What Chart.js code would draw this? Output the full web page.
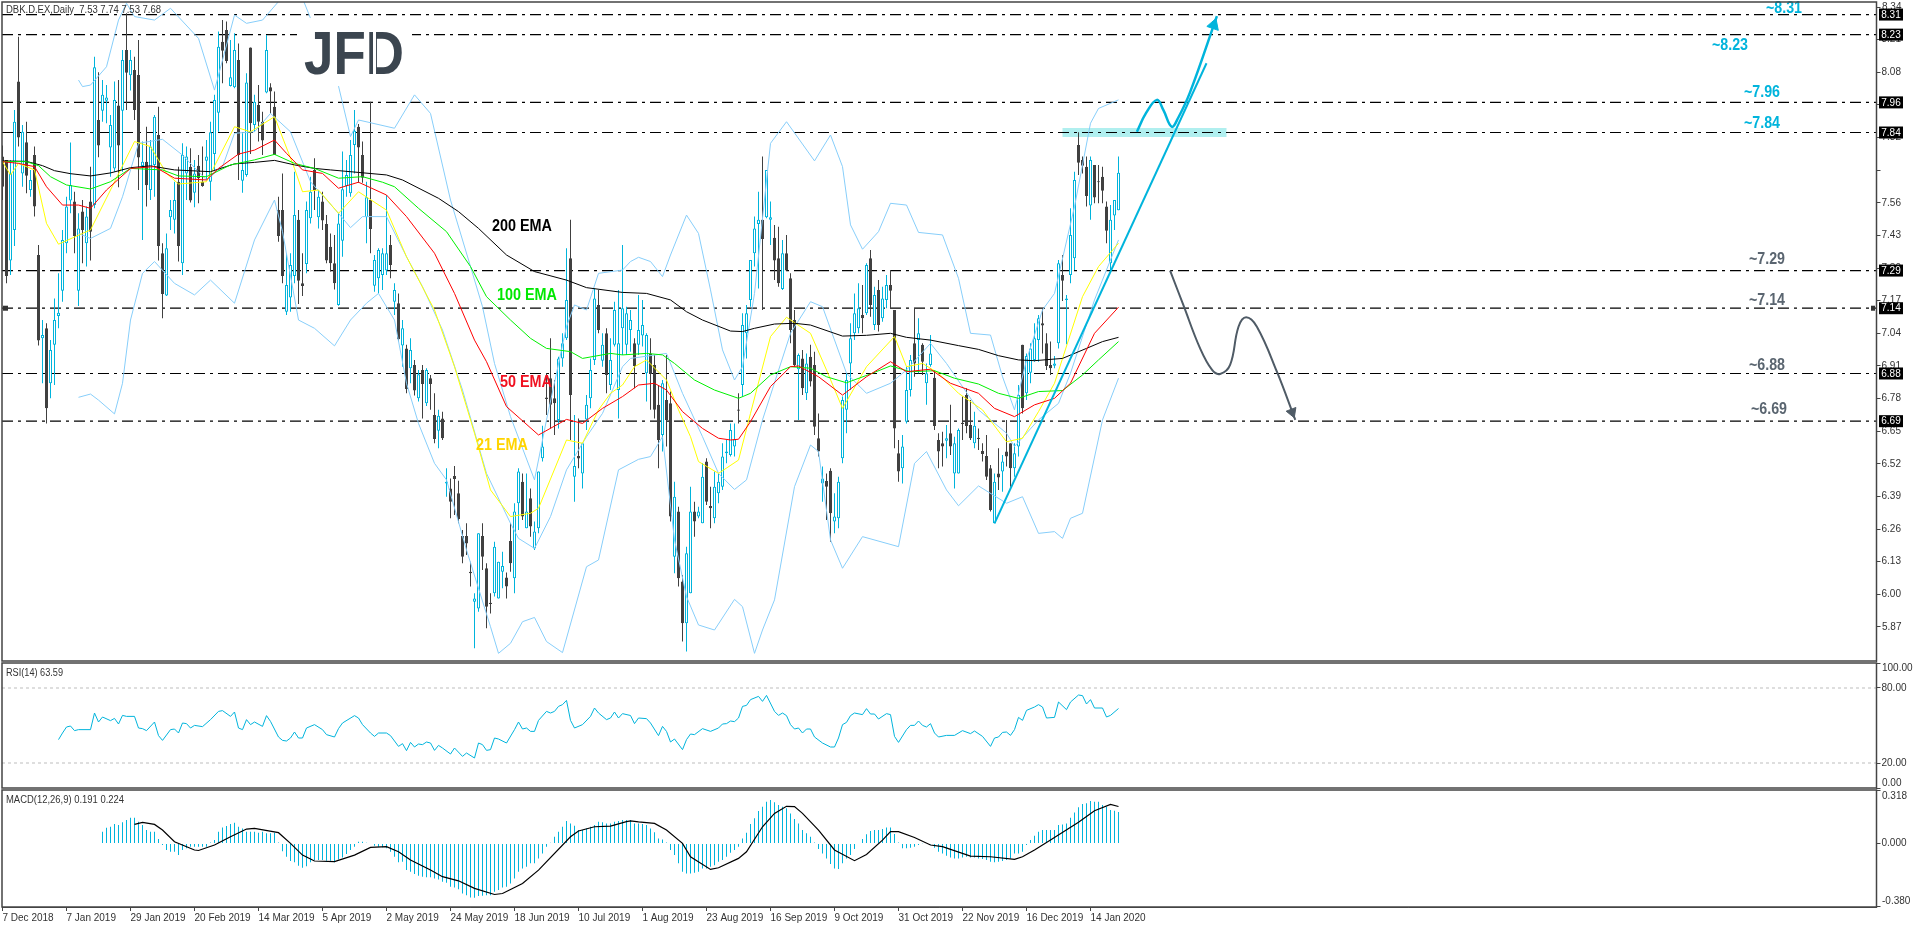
<!DOCTYPE html>
<html>
<head>
<meta charset="utf-8">
<title>DBK.D.EX Daily</title>
<script src="https://cdn.jsdelivr.net/npm/chart.js@4/dist/chart.umd.min.js"></script>
<style>
  html, body { margin: 0; padding: 0; background: #fff; overflow: hidden; }
  canvas { position: absolute; left: 0; }
  #price-chart { top: 0; }
  #rsi-chart { top: 662px; }
  #macd-chart { top: 789px; }
</style>
</head>
<body>
<canvas id="price-chart" width="1916" height="662"></canvas>
<canvas id="rsi-chart" width="1916" height="127"></canvas>
<canvas id="macd-chart" width="1916" height="139"></canvas>
<script>
// daily candles, one entry per bar
const opens = [
  7.744,7.731,7.330,7.452,8.043,7.677,7.801,7.611,7.750,7.352,
  7.020,7.060,6.841,6.994,7.109,7.210,7.399,7.569,7.565,7.210,
  7.525,7.399,7.565,7.551,7.890,7.927,7.967,7.780,7.697,7.948,
  7.927,8.169,8.068,8.089,8.069,7.707,7.724,7.611,7.711,7.830,
  7.359,7.191,7.502,7.492,7.644,7.319,7.677,7.704,7.600,7.708,
  7.644,7.728,7.644,7.754,7.919,8.202,8.248,8.025,8.020,8.129,
  7.648,7.671,8.179,7.870,7.950,7.883,7.999,8.020,7.943,7.531,
  7.531,7.126,7.183,7.268,7.492,7.239,7.316,7.498,7.691,7.502,
  7.565,7.476,7.385,7.319,7.153,7.409,7.627,7.598,7.790,7.863,
  7.750,7.502,7.571,7.230,7.259,7.272,7.290,7.392,7.166,7.160,
  6.991,6.980,6.901,6.914,6.781,6.894,6.761,6.861,6.715,6.652,
  6.701,6.442,6.422,6.472,6.403,6.233,6.233,6.090,5.971,5.944,
  6.233,6.104,5.967,6.004,5.984,6.090,6.067,6.213,6.064,6.363,
  6.449,6.263,6.383,6.183,6.263,6.542,6.784,6.861,6.781,6.695,
  6.940,7.020,7.339,6.469,6.551,6.482,6.697,6.781,6.934,7.153,
  6.931,7.040,6.834,6.994,6.814,7.060,6.994,7.053,7.000,6.994,
  7.031,6.881,6.960,6.914,6.755,6.635,6.774,6.761,6.150,6.330,
  6.051,5.885,6.004,6.330,6.310,6.283,6.529,6.352,6.303,6.403,
  6.429,6.562,6.555,6.589,6.736,6.834,7.040,7.173,7.359,7.476,
  7.492,7.502,7.492,7.421,7.339,7.217,7.359,7.259,7.093,6.897,
  6.940,6.801,6.947,6.914,6.622,6.442,6.452,6.492,6.290,6.303,
  6.542,6.735,6.920,7.040,7.060,7.113,7.120,7.339,7.073,7.213,
  7.100,7.173,7.233,7.133,6.562,6.502,6.688,6.814,7.000,7.013,
  6.994,6.841,6.914,6.863,6.615,6.602,6.612,6.642,6.482,6.482,
  6.684,6.794,6.675,6.602,6.624,6.571,6.551,6.502,6.283,6.482,
  6.489,6.569,6.602,6.502,6.589,6.994,6.801,6.883,6.934,7.013,
  7.080,7.000,6.914,6.911,7.000,7.272,7.173,7.272,7.339,7.790,
  7.731,7.704,7.549,7.711,7.646,7.664,7.545,7.319,7.509,7.530
]
const highs = [
  7.788,7.731,7.731,7.930,8.222,7.870,7.883,7.691,7.784,7.392,
  7.093,7.080,7.013,7.179,7.279,7.452,7.584,7.800,7.604,7.518,
  7.571,7.545,7.704,8.142,8.080,8.049,8.029,7.910,8.043,8.049,
  8.169,8.315,8.169,8.142,8.209,7.804,7.863,7.810,7.910,7.943,
  7.399,7.438,7.571,7.644,7.704,7.797,7.784,7.777,7.731,7.750,
  7.784,7.810,7.883,7.990,8.242,8.288,8.282,8.209,8.235,8.195,
  7.837,8.076,8.179,7.990,8.029,7.923,8.229,8.036,8.003,7.584,
  7.677,7.359,7.359,7.684,7.531,7.359,7.565,7.664,7.737,7.611,
  7.604,7.511,7.438,7.432,7.518,7.764,7.731,7.810,7.930,7.874,
  7.804,7.644,7.963,7.352,7.379,7.379,7.591,7.432,7.239,7.199,
  7.093,6.994,7.020,6.934,6.894,6.914,6.901,6.874,6.801,6.735,
  6.728,6.502,6.462,6.511,6.453,6.256,6.283,6.130,6.004,6.243,
  6.283,6.124,6.004,6.210,6.130,6.170,6.087,6.283,6.363,6.502,
  6.482,6.482,6.422,6.290,6.489,6.672,6.881,7.020,6.854,6.947,
  7.040,7.379,7.492,6.715,6.701,6.602,6.794,6.940,7.219,7.213,
  7.040,7.060,7.020,7.166,7.213,7.392,7.146,7.133,7.020,7.193,
  7.173,7.040,7.020,6.954,6.834,6.854,6.954,6.808,6.449,6.349,
  6.077,6.190,6.429,6.369,6.349,6.522,6.542,6.429,6.489,6.482,
  6.602,6.615,6.681,6.681,6.801,7.120,7.153,7.332,7.505,7.604,
  7.744,7.691,7.565,7.472,7.465,7.412,7.432,7.279,7.133,6.960,
  6.974,6.960,6.994,6.967,6.721,6.509,6.482,6.502,6.403,6.469,
  6.788,6.881,7.080,7.199,7.239,7.233,7.319,7.372,7.226,7.252,
  7.226,7.272,7.292,7.133,6.615,6.635,6.907,6.954,7.140,7.100,
  7.000,6.920,7.033,6.894,6.642,6.648,6.675,6.755,6.628,6.661,
  6.788,6.821,6.774,6.728,6.661,6.602,6.635,6.515,6.482,6.582,
  6.555,6.695,6.602,6.602,6.834,6.994,6.960,7.000,7.080,7.113,
  7.140,7.040,7.007,6.950,7.332,7.352,7.193,7.538,7.684,7.841,
  7.744,7.744,7.744,7.711,7.711,7.704,7.565,7.551,7.571,7.744
]
const lows = [
  7.571,7.239,7.272,7.388,7.784,7.624,7.598,7.584,7.505,6.991,
  6.841,6.681,6.781,6.834,7.060,7.166,7.359,7.518,7.359,7.149,
  7.319,7.306,7.330,7.538,7.741,7.883,7.877,7.664,7.684,7.622,
  7.684,7.930,8.007,7.890,7.611,7.412,7.545,7.571,7.584,7.330,
  7.100,7.189,7.452,7.438,7.326,7.272,7.571,7.561,7.542,7.558,
  7.624,7.651,7.569,7.691,7.843,8.036,8.116,8.023,8.016,7.651,
  7.600,7.664,7.754,7.843,7.804,7.750,7.996,7.916,7.750,7.405,
  7.239,7.113,7.126,7.239,7.157,7.189,7.279,7.478,7.531,7.458,
  7.452,7.319,7.286,7.215,7.150,7.345,7.584,7.584,7.677,7.640,
  7.640,7.399,7.359,7.206,7.199,7.213,7.272,7.259,7.113,7.007,
  6.907,6.801,6.841,6.792,6.768,6.701,6.750,6.735,6.602,6.582,
  6.615,6.389,6.303,6.316,6.283,6.124,6.157,6.031,5.785,5.931,
  6.097,5.865,5.924,5.991,5.984,6.024,5.984,6.090,6.004,6.256,
  6.296,6.263,6.230,6.177,6.243,6.529,6.715,6.661,6.635,6.661,
  6.907,7.013,6.615,6.369,6.502,6.422,6.655,6.741,6.914,7.040,
  6.907,6.801,6.814,6.987,6.701,6.954,6.954,6.967,6.821,6.954,
  6.987,6.768,6.735,6.701,6.502,6.569,6.589,6.290,6.084,6.031,
  5.812,5.772,6.004,6.230,6.303,6.283,6.356,6.263,6.283,6.363,
  6.416,6.522,6.549,6.549,6.681,6.788,6.940,7.146,7.306,7.219,
  7.133,7.498,7.392,7.252,7.226,7.213,7.290,7.000,6.907,6.695,
  6.794,6.774,6.828,6.635,6.549,6.369,6.296,6.210,6.243,6.263,
  6.522,6.642,6.814,7.013,7.040,7.040,7.113,7.106,7.053,7.047,
  7.086,7.140,7.140,6.582,6.449,6.442,6.681,6.788,6.867,6.881,
  6.874,6.755,6.907,6.655,6.502,6.509,6.542,6.555,6.422,6.482,
  6.615,6.642,6.615,6.582,6.575,6.529,6.456,6.330,6.283,6.416,
  6.409,6.509,6.429,6.469,6.549,6.721,6.774,6.841,6.927,6.927,
  6.960,6.894,6.874,6.901,6.980,7.169,6.996,7.239,7.292,7.671,
  7.677,7.545,7.492,7.558,7.558,7.558,7.399,7.286,7.452,7.530
]
const closes = [
  7.624,7.268,7.677,7.883,7.820,7.843,7.668,7.651,7.545,7.011,
  7.033,6.741,6.974,7.093,7.122,7.412,7.545,7.631,7.428,7.458,
  7.452,7.505,7.445,8.100,7.788,7.990,7.980,7.870,7.970,7.788,
  8.129,8.078,8.129,7.930,7.740,7.724,7.630,7.784,7.903,7.388,
  7.197,7.379,7.531,7.571,7.388,7.750,7.744,7.569,7.677,7.658,
  7.627,7.744,7.841,7.970,8.182,8.166,8.125,8.060,8.169,7.750,
  7.691,8.039,7.877,7.963,7.883,7.808,8.169,8.003,7.750,7.428,
  7.268,7.233,7.312,7.511,7.249,7.229,7.531,7.604,7.611,7.584,
  7.489,7.330,7.319,7.239,7.478,7.614,7.671,7.750,7.847,7.780,
  7.660,7.582,7.456,7.332,7.372,7.359,7.359,7.312,7.213,7.016,
  7.060,6.818,6.974,6.812,6.877,6.838,6.894,6.838,6.619,6.712,
  6.622,6.449,6.369,6.460,6.300,6.150,6.203,6.084,5.984,6.243,
  6.150,5.951,5.962,6.190,6.130,6.113,6.031,6.124,6.330,6.489,
  6.310,6.330,6.270,6.250,6.489,6.589,6.778,6.755,6.761,6.940,
  7.000,7.173,6.794,6.511,6.541,6.602,6.755,6.894,7.179,7.053,
  6.994,6.874,6.934,7.133,7.000,7.140,7.120,7.093,6.910,7.053,
  7.073,7.033,6.878,6.735,6.615,6.841,6.695,6.310,6.389,6.064,
  5.885,6.164,6.330,6.290,6.330,6.469,6.369,6.343,6.429,6.449,
  6.549,6.569,6.655,6.618,6.732,7.073,7.120,7.332,7.458,7.492,
  7.416,7.691,7.502,7.330,7.239,7.359,7.290,7.053,6.914,6.954,
  6.821,6.920,6.848,6.668,6.569,6.462,6.429,6.323,6.310,6.449,
  6.774,6.854,7.020,7.120,7.140,7.100,7.312,7.153,7.193,7.073,
  7.179,7.233,7.210,6.661,6.489,6.589,6.814,6.934,6.920,7.040,
  6.927,6.881,6.960,6.671,6.569,6.589,6.622,6.589,6.602,6.655,
  6.679,6.671,6.622,6.672,6.619,6.559,6.469,6.336,6.449,6.466,
  6.529,6.549,6.502,6.562,6.794,6.741,6.950,6.980,7.020,7.100,
  7.071,6.910,6.901,6.920,7.319,7.249,7.179,7.432,7.651,7.720,
  7.708,7.587,7.731,7.581,7.642,7.608,7.449,7.492,7.571,7.680
]

// indicators at the turning points: bar number + value
const ema200Bars = [0,6,10,13,17,22,27,32,37,43,52,58,63,68,73,78,82,89,96,100,109,114,119,126,133,141,146,155,161,167,171,175,182,185,188,193,198,202,210,216,222,226,232,239,244,249,254,258,265,271,275,279]
const ema200Vals = [7.727,7.725,7.708,7.688,7.676,7.667,7.679,7.700,7.707,7.691,7.684,7.715,7.721,7.729,7.711,7.697,7.691,7.681,7.671,7.651,7.578,7.525,7.458,7.352,7.286,7.252,7.222,7.203,7.199,7.173,7.126,7.093,7.049,7.047,7.060,7.077,7.080,7.073,7.029,7.032,7.040,7.024,7.013,6.991,6.976,6.951,6.934,6.931,6.940,6.980,7.007,7.024]
const ema100Bars = [0,6,9,12,16,22,27,32,40,44,51,57,63,68,73,78,84,90,95,98,104,111,117,121,127,132,136,142,145,152,155,161,165,168,173,178,184,187,192,197,202,206,211,217,222,227,233,238,244,249,254,259,265,270,274,279]
const ema100Vals = [7.724,7.724,7.708,7.664,7.631,7.615,7.644,7.697,7.691,7.667,7.664,7.711,7.731,7.753,7.717,7.697,7.658,7.664,7.642,7.624,7.538,7.445,7.306,7.186,7.093,7.020,6.980,6.967,6.940,6.960,6.954,6.960,6.954,6.920,6.854,6.814,6.781,6.801,6.874,6.907,6.901,6.867,6.843,6.878,6.910,6.887,6.891,6.861,6.838,6.801,6.781,6.808,6.812,6.874,6.934,7.007]
const ema50Bars = [0,4,8,11,15,19,22,26,32,38,43,51,54,59,63,68,71,75,80,84,89,96,101,108,113,118,121,126,134,141,145,150,155,159,163,166,170,175,179,182,184,187,192,197,199,204,210,216,222,226,232,237,244,248,253,258,263,267,273,279]
const ema50Vals = [7.724,7.717,7.704,7.624,7.551,7.551,7.538,7.611,7.697,7.704,7.658,7.651,7.697,7.754,7.770,7.810,7.757,7.691,7.677,7.618,7.642,7.591,7.505,7.359,7.199,7.013,6.927,6.748,6.635,6.697,6.681,6.741,6.788,6.834,6.841,6.814,6.728,6.661,6.622,6.615,6.618,6.688,6.828,6.907,6.910,6.867,6.794,6.867,6.927,6.887,6.897,6.841,6.801,6.741,6.708,6.755,6.781,6.841,7.040,7.144]
const ema21Bars = [0,2,4,8,11,14,20,22,27,33,37,41,44,51,58,62,68,73,75,79,84,89,96,101,108,113,118,122,127,132,134,141,145,149,152,155,158,161,166,169,172,174,179,184,187,192,196,202,206,210,216,223,226,230,234,239,245,251,255,259,263,270,274,279]
const ema21Vals = [7.724,7.671,7.717,7.691,7.478,7.395,7.438,7.452,7.611,7.804,7.784,7.677,7.635,7.644,7.863,7.843,7.903,7.697,7.604,7.611,7.518,7.604,7.531,7.345,7.133,6.907,6.642,6.416,6.310,6.323,6.343,6.615,6.602,6.735,6.801,6.834,6.907,6.934,6.854,6.735,6.628,6.529,6.482,6.535,6.721,7.027,7.104,7.040,6.894,6.741,6.907,7.027,6.907,6.920,6.881,6.801,6.735,6.608,6.622,6.728,6.841,7.186,7.306,7.399]
const bbUpperBars = [19,20,22,26,29,31,33,38,42,49,53,58,61,65,70,75,77,84,87,89,98,103,107,112,117,120,123,127,133,136,141,143,146,149,155,157,159,162,165,167,171,174,177,180,183,185,188,192,196,203,207,210,212,215,219,222,226,229,235,239,242,247,250,253,256,260,263,268,272,274,279]
const bbUpperVals = [8.049,8.023,8.029,8.102,8.288,8.355,8.302,8.288,8.335,8.215,8.009,8.308,8.275,8.288,8.380,8.375,8.295,8.025,7.824,7.890,7.857,7.990,7.916,7.571,7.306,7.146,6.920,6.708,6.456,6.695,7.067,7.153,7.133,7.279,7.292,7.326,7.343,7.326,7.266,7.352,7.511,7.438,7.213,6.974,6.854,6.907,7.199,7.797,7.883,7.727,7.830,7.704,7.472,7.375,7.445,7.558,7.551,7.442,7.432,7.259,7.040,7.033,6.867,6.735,6.934,7.133,7.199,7.545,7.877,7.936,7.970]
const bbMidBars = [19,22,27,30,34,40,45,51,55,58,63,67,72,77,84,87,90,96,101,105,110,115,121,127,129,133,137,141,146,150,155,157,166,170,175,179,183,186,190,197,202,205,211,216,222,226,232,236,244,251,253,259,264,267,273,279]
const bbMidVals = [7.438,7.418,7.458,7.584,7.797,7.813,7.750,7.651,7.704,7.837,7.843,7.916,7.843,7.644,7.518,7.461,7.505,7.505,7.345,7.226,7.053,6.814,6.482,6.283,6.223,6.183,6.310,6.496,6.628,6.721,6.907,6.940,6.960,6.801,6.628,6.482,6.418,6.456,6.695,7.040,7.166,7.146,6.881,6.801,6.841,6.894,7.000,6.920,6.735,6.642,6.589,6.695,6.761,6.881,7.173,7.412]
const bbLowerBars = [19,22,24,28,30,32,35,38,43,48,52,58,63,68,70,74,78,83,87,91,94,98,101,104,108,111,116,122,124,127,130,133,136,140,146,149,154,159,162,165,168,171,174,178,183,185,188,190,193,198,202,204,207,210,215,224,228,231,236,239,244,251,255,259,263,265,267,270,275,279]
const bbLowerVals = [6.785,6.798,6.774,6.719,6.841,7.093,7.279,7.326,7.239,7.193,7.252,7.160,7.412,7.571,7.445,7.093,7.060,6.990,7.093,7.160,7.199,7.093,6.841,6.681,6.522,6.456,6.177,5.871,5.765,5.805,5.891,5.908,5.812,5.768,6.110,6.137,6.496,6.538,6.549,6.628,6.217,5.991,5.878,5.858,5.980,5.951,5.765,5.858,5.978,6.429,6.595,6.569,6.217,6.104,6.230,6.190,6.522,6.569,6.416,6.353,6.432,6.363,6.389,6.243,6.250,6.223,6.303,6.323,6.695,6.861]

// horizontal levels and what is drawn over them
const levels = [8.31,8.23,7.96,7.84,7.29,7.14,6.88,6.69]
const priceTicks = [8.34,8.21,8.08,7.95,7.82,7.69,7.56,7.43,7.30,7.17,7.04,6.91,6.78,6.65,6.52,6.39,6.26,6.13,6.00,5.87]
const zoneBars = [265,306]
const zoneVals = [7.84,7.84]
const trendBars = [248,301]
const trendVals = [6.283,8.116]
const upPathBars = [283.6,285.9,288.6,290.2,292.3,293.9,296.9,303.6]
const upPathVals = [7.843,7.918,7.970,7.930,7.863,7.898,8.001,8.304]
const downPathBars = [291.9,295.2,299.4,302.4,304.4,306.9,309,310.9,313.6,318.6,323.2]
const downPathVals = [7.290,7.153,6.980,6.894,6.878,6.914,7.066,7.104,7.066,6.887,6.695]

const rsiBars = [14,15,16,17,18,19,22,23,24,25,27,28,29,30,31,33,34,35,36,38,39,40,42,43,44,45,46,47,48,50,52,54,55,57,58,59,60,61,62,63,65,66,67,69,70,71,72,73,74,75,76,78,80,81,83,84,85,88,89,90,92,93,94,96,97,99,100,101,102,103,104,105,106,107,108,109,110,112,113,115,116,118,119,120,121,122,123,124,126,128,129,130,131,132,133,134,136,137,138,139,140,141,142,143,145,147,148,149,151,152,153,154,155,157,158,159,161,162,164,165,166,167,168,170,171,172,173,175,177,179,180,181,182,183,184,185,186,187,189,190,191,193,194,195,196,197,198,199,200,201,202,203,205,207,208,209,210,211,212,213,215,216,217,218,219,221,222,223,224,226,227,228,229,230,231,232,233,234,236,238,240,242,243,245,247,248,249,250,251,252,253,254,255,256,258,259,260,261,263,264,266,267,269,270,271,272,273,275,276,277,279]
const rsiVals = [38.7,44,48.8,49.6,45.9,46.7,46.7,60,52.8,56.8,53.9,55.7,51.2,58.1,57.3,57.3,48,47.5,45.9,52.8,41.9,38.1,46.7,47.2,44,52,51.5,48,50.1,49.1,54.7,61.3,61.9,57.3,60.8,48,46.7,54.7,50.7,52.8,49.3,57.9,53.3,40.8,38.1,37.6,40,44.8,40,40,48,50.7,46.7,42.7,40.8,47.5,52,57.9,56,50.7,44,41.3,44,44,41.9,33.3,35.5,29.9,36.5,32.8,35.2,34.7,36.8,36,30.1,34.1,32,27.2,32,25.3,28,24,36,34.7,30.1,30.7,40,39.2,36,46.7,52.8,47.2,48,45.3,45.3,54.1,61.3,60,61.3,65.3,66.7,70.1,54.1,48,50.7,57.3,64,60,54.7,56,60.8,56,59.5,58,51.5,56,55.5,52,41.9,49.3,45.3,36.8,39.2,30.7,38.7,43.2,42.7,47.5,45.3,48,51.2,51.5,53.6,53.1,56,65.3,66.1,70.7,73.3,69.3,74.1,61.3,58.1,60,57.9,50.7,47.2,48,44,47.2,47.2,40.8,36,32.8,32.8,40,50.7,52.5,57.9,60,58.7,63.5,59.2,59.2,55.2,59.5,58.7,41.3,36.5,46.7,50.1,50.1,53.6,50.1,48.8,51.5,44,40.8,42.1,42.1,45.9,43.5,45.6,41.3,33.3,40,40.8,44.5,44.8,42.1,46.7,56.5,54.1,62.1,64.8,66.7,64.8,56,56.5,68.8,62.7,68.8,74.4,73.9,67.2,70.7,64,64,56.8,58.1,63.59]
const rsiLevels = [80,20]
const rsiTicks = [100,80,20,0]

const macdFirstBar = 25
const macdHist = [
  .071,.095,.101,.117,.111,.128,.142,.156,.156,.132,.111,.081,.071,.071,.026,
  -.010,-.040,-.051,-.051,-.071,-.040,-.030,-.020,-.020,-.020,-.020,-.020,.006,.020,.071,
  .097,.105,.117,.125,.101,.091,.071,.071,.071,.065,.071,.061,.061,.065,.006,
  -.047,-.081,-.107,-.115,-.136,-.148,-.138,-.115,-.101,-.101,-.101,-.105,-.105,-.115,-.097,
  -.085,-.065,-.040,-.020,.010,.010,.004,-.004,-.014,-.020,-.024,-.030,-.051,-.081,-.115,
  -.111,-.162,-.172,-.186,-.196,-.202,-.206,-.206,-.213,-.219,-.233,-.239,-.263,-.267,-.279,
  -.304,-.314,-.328,-.330,-.320,-.318,-.314,-.314,-.293,-.283,-.267,-.263,-.243,-.213,-.172,
  -.152,-.142,-.121,-.121,-.091,-.061,-.020,.004,.040,.071,.101,.136,.121,.107,.081,
  .081,.091,.101,.111,.132,.128,.121,.121,.132,.136,.142,.142,.142,.121,.121,
  .117,.111,.091,.067,.030,.024,.006,-.040,-.071,-.121,-.172,-.182,-.182,-.178,-.172,
  -.152,-.152,-.142,-.132,-.111,-.101,-.081,-.057,-.040,-.020,.030,.065,.117,.152,.196,
  .223,.253,.263,.249,.233,.223,.213,.182,.148,.121,.081,.061,.040,.006,-.034,
  -.061,-.091,-.125,-.152,-.156,-.121,-.091,-.071,-.034,-.004,.026,.055,.075,.081,.081,
  .087,.097,.097,.057,.006,-.030,-.030,-.026,-.020,-.010,.001,-.004,-.006,-.026,-.051,
  -.061,-.075,-.085,-.091,-.091,-.085,-.081,-.085,-.085,-.091,-.095,-.101,-.111,-.115,-.111,
  -.107,-.101,-.091,-.061,-.061,-.051,-.010,.020,.047,.071,.081,.081,.081,.081,.111,
  .115,.121,.156,.188,.219,.239,.243,.257,.253,.253,.233,.223,.202,.198,.191
]
const signalBars = [33,35,38,40,43,48,49,53,57,61,63,69,72,75,78,83,88,92,96,99,102,107,110,114,118,123,125,130,134,142,144,148,152,156,157,159,163,166,170,172,177,179,184,186,190,193,196,198,200,204,208,213,216,220,222,224,228,232,235,242,247,253,255,258,262,269,273,277,279]
const signalVals = [.115,.128,.115,.081,.010,-.040,-.043,-.010,.040,.087,.091,.065,0,-.071,-.107,-.111,-.071,-.024,-.020,-.051,-.101,-.162,-.202,-.227,-.273,-.310,-.304,-.243,-.162,.040,.075,.101,.105,.132,.136,.130,.121,.081,0,-.081,-.158,-.148,-.091,-.051,.101,.182,.225,.223,.182,.081,-.040,-.105,-.067,.020,.071,.071,.036,-.010,-.020,-.077,-.081,-.097,-.081,-.040,.020,.128,.198,.237,.224]
const macdTicks = [.318,0,-.38]

const dateTicks = [0,16,32,48,64,80,96,112,128,144,160,176,192,208,224,240,256,272]
const dateLabels = ['7 Dec 2018','7 Jan 2019','29 Jan 2019','20 Feb 2019','14 Mar 2019','5 Apr 2019','2 May 2019','24 May 2019','18 Jun 2019','10 Jul 2019','1 Aug 2019','23 Aug 2019','16 Sep 2019','9 Oct 2019','31 Oct 2019','22 Nov 2019','16 Dec 2019','14 Jan 2020']

const frameColor = '#444'
const bullColor = '#00B4DC'
const bearColor = '#404040'
const bandColor = '#87CEFA'
const darkLabel = '#5A6570'
const axisFont = '10px "Liberation Sans"'

Chart.defaults.font.family = '"Liberation Sans"'
Chart.defaults.font.size = 10
Chart.defaults.color = '#333'

const pairs = (xs, ys) => xs.map((x, i) => ({x: x, y: ys[i]}))
const lastBar = 468.5

const lineSet = (xs, ys, color, width, order, extra) => Object.assign({
  type: 'line', data: pairs(xs, ys), borderColor: color, borderWidth: width,
  pointRadius: 0, tension: 0, order: order
}, extra || {})

// the library reserves room around the outer ticks, these panes sit edge to edge
const noMargins = s => { s.paddingTop = 0; s.paddingBottom = 0; s.paddingLeft = 0; s.paddingRight = 0 }

const xAxis = (showLabels) => ({
  type: 'linear', min: -0.125, max: lastBar, offset: false, display: showLabels,
  grid: {drawOnChartArea: false, offset: false, color: frameColor, tickLength: 4},
  border: {color: frameColor},
  afterBuildTicks: s => { s.ticks = dateTicks.map(v => ({value: v})) },
  afterFit: s => { if (showLabels) s.height = 21; noMargins(s) },
  ticks: {
    autoSkip: false, maxRotation: 0, align: 'start', padding: 1,
    callback: v => dateLabels[dateTicks.indexOf(v)]
  }
})

const yAxis = (lo, hi, values, label) => ({
  position: 'right', min: lo, max: hi,
  grid: {drawOnChartArea: false, color: frameColor, tickLength: 4},
  border: {color: frameColor},
  afterFit: s => { s.width = 39.5; noMargins(s) },
  afterBuildTicks: s => { s.ticks = values.map(v => ({value: v})) },
  ticks: {autoSkip: false, padding: 1, callback: label}
})

const frame = (chart) => {
  const c = chart.ctx, a = chart.chartArea
  c.save()
  c.strokeStyle = frameColor
  c.lineWidth = 1.5
  c.strokeRect(a.left, a.top, a.right - a.left, a.bottom - a.top)
  c.restore()
}

const writeText = (c, text, x, y, font, color, fit) => {
  c.font = font
  c.fillStyle = color
  c.textAlign = 'left'
  c.textBaseline = 'middle'
  if (fit) c.fillText(text, x, y, fit)
  else c.fillText(text, x, y)
}

const chartNotes = [
  ['200 EMA', 492, 227, '#000000', 60],
  ['100 EMA', 497, 296, '#00E800', 60],
  ['50 EMA', 500, 383, '#F01020', 52],
  ['21 EMA', 476, 446, '#FFD400', 52],
  ['~8.31', 1766, 9, bullColor, 36],
  ['~8.23', 1712, 46, bullColor, 36],
  ['~7.96', 1744, 93, bullColor, 36],
  ['~7.84', 1744, 124, bullColor, 36],
  ['~7.29', 1749, 260, darkLabel, 36],
  ['~7.14', 1749, 301, darkLabel, 36],
  ['~6.88', 1749, 366, darkLabel, 36],
  ['~6.69', 1751, 410, darkLabel, 36]
]

const pricePlugin = {
  id: 'priceExtras',
  afterDatasetsDraw(chart) {
    const c = chart.ctx
    c.save()
    // logo sits on its own white plate
    c.fillStyle = '#fff'
    c.fillRect(297, 18, 115, 68)
    c.font = 'bold 62px "Liberation Sans"'
    c.fillStyle = '#3B454F'
    c.textAlign = 'left'
    c.textBaseline = 'alphabetic'
    c.fillText('JFD', 304, 74, 100)
    c.fillStyle = '#fff'
    c.fillRect(373, 26, 3, 50)
    chartNotes.forEach(n => writeText(c, n[0], n[1], n[2], 'bold 16px "Liberation Sans"', n[3], n[4]))
    writeText(c, 'DBK.D.EX,Daily  7.53 7.74 7.53 7.68', 6, 10, axisFont, '#333', 155)
    c.restore()
  },
  afterDraw(chart) {
    frame(chart)
    const c = chart.ctx, y = chart.scales.y
    c.save()
    const labelX = chart.chartArea.right + 5.5
    writeText(c, '8.34', labelX, y.getPixelForValue(8.34), axisFont, '#333')
    writeText(c, '5.87', labelX, y.getPixelForValue(5.87), axisFont, '#333')
    levels.forEach(v => {
      const py = y.getPixelForValue(v)
      c.fillStyle = '#000'
      c.fillRect(1879, py - 6, 24, 12)
      c.font = axisFont
      c.fillStyle = '#fff'
      c.textAlign = 'center'
      c.textBaseline = 'middle'
      c.fillText(v.toFixed(2), 1891, py + 0.5)
    })
    // the little markers on the 7.14 level
    const py = y.getPixelForValue(7.14)
    c.fillStyle = '#333'
    c.fillRect(3, py - 2.5, 5, 5)
    c.fillRect(1871, py - 2.5, 4, 5)
    c.restore()
  }
}

const edgeLabels = (title, fit, edges) => ({
  id: 'paneExtras',
  afterDraw(chart) {
    frame(chart)
    const c = chart.ctx, y = chart.scales.y
    c.save()
    writeText(c, title, 6, chart.chartArea.top + 10, axisFont, '#333', fit)
    edges.forEach(e => writeText(c, e[1], chart.chartArea.right + 5.5, y.getPixelForValue(e[0]) + e[2], axisFont, '#333'))
    c.restore()
  }
})

const baseOptions = {
  responsive: false,
  animation: false,
  devicePixelRatio: 1,
  events: [],
  plugins: {legend: {display: false}, tooltip: {enabled: false}}
}

const isBull = closes.map((v, i) => v >= opens[i])
const pickColor = isBull.map(b => b ? bullColor : bearColor)

new Chart(document.getElementById('price-chart'), {
  type: 'line',
  plugins: [pricePlugin],
  data: {
    datasets: [
      lineSet(zoneBars, zoneVals, '#B0EFEF', 9, 9, {borderCapStyle: 'butt'}),
      ...levels.map(v => lineSet([-0.125, lastBar], [v, v], '#000', 1.2, 8, {borderDash: [11, 5, 3, 5]})),
      {
        type: 'bar', grouped: false, order: 7, barThickness: 1, inflateAmount: 0,
        data: highs.map((h, i) => ({x: i, y: [lows[i], h]})),
        backgroundColor: pickColor, borderWidth: 0
      },
      {
        type: 'bar', grouped: false, order: 6, barThickness: 3, inflateAmount: 0,
        data: opens.map((o, i) => ({x: i, y: [Math.min(o, closes[i]), Math.max(o, closes[i])]})),
        backgroundColor: isBull.map(b => b ? '#fff' : bearColor),
        borderColor: pickColor, borderWidth: 1, borderSkipped: false
      },
      lineSet(bbUpperBars, bbUpperVals, bandColor, 1, 5),
      lineSet(bbMidBars, bbMidVals, bandColor, 1, 5),
      lineSet(bbLowerBars, bbLowerVals, bandColor, 1, 5),
      lineSet(ema21Bars, ema21Vals, '#FFFF00', 1, 4),
      lineSet(ema50Bars, ema50Vals, '#FF0000', 1, 3),
      lineSet(ema100Bars, ema100Vals, '#00F000', 1, 3),
      lineSet(ema200Bars, ema200Vals, '#000000', 1, 3),
      lineSet(trendBars, trendVals, bullColor, 2, 2),
      lineSet(upPathBars, upPathVals, bullColor, 2.5, 2, {tension: 0.4}),
      lineSet(downPathBars, downPathVals, '#4F5B66', 2, 2, {tension: 0.4}),
      lineSet([302.8], [8.268], bullColor, 1, 1, {pointStyle: 'triangle', pointRadius: 7, pointRotation: 19, pointBackgroundColor: bullColor, pointBorderColor: bullColor}),
      lineSet([322.4], [6.726], '#4F5B66', 1, 1, {pointStyle: 'triangle', pointRadius: 6, pointRotation: 159, pointBackgroundColor: '#4F5B66', pointBorderColor: '#4F5B66'})
    ]
  },
  options: Object.assign({}, baseOptions, {
    layout: {autoPadding: false, padding: {left: 2, top: 2, bottom: 1, right: 0}},
    scales: {
      x: xAxis(false),
      y: yAxis(5.7345, 8.36, priceTicks, v => (v === 7.69 || v === 8.34 || v === 5.87) ? '' : v.toFixed(2))
    }
  })
})

new Chart(document.getElementById('rsi-chart'), {
  type: 'line',
  plugins: [edgeLabels('RSI(14) 63.59', 57, [[100, '100.00', 5], [0, '0.00', -5]])],
  data: {
    datasets: [
      ...rsiLevels.map(v => lineSet([-0.125, lastBar], [v, v], '#BDBDBD', 1, 5, {borderDash: [3, 3]})),
      lineSet(rsiBars, rsiVals, bullColor, 1, 1)
    ]
  },
  options: Object.assign({}, baseOptions, {
    layout: {autoPadding: false, padding: {left: 2, top: 1, bottom: 1, right: 0}},
    scales: {
      x: xAxis(false),
      y: yAxis(0, 100, rsiTicks, v => (v === 100 || v === 0) ? '' : v.toFixed(2))
    }
  })
})

new Chart(document.getElementById('macd-chart'), {
  type: 'line',
  plugins: [edgeLabels('MACD(12,26,9) 0.191 0.224', 118, [[.318, '0.318', 5], [-.38, '-0.380', -5]])],
  data: {
    datasets: [
      {
        type: 'bar', order: 2, barThickness: 1, inflateAmount: 0,
        data: macdHist.map((v, i) => ({x: macdFirstBar + i, y: v})),
        backgroundColor: bullColor, borderWidth: 0
      },
      lineSet(signalBars, signalVals, '#000', 1.2, 1)
    ]
  },
  options: Object.assign({}, baseOptions, {
    layout: {autoPadding: false, padding: {left: 2, top: 1, bottom: 0, right: 0}},
    scales: {
      x: xAxis(true),
      y: yAxis(-.386, .324, macdTicks, v => v === 0 ? '0.000' : '')
    }
  })
})
</script>
</body>
</html>
